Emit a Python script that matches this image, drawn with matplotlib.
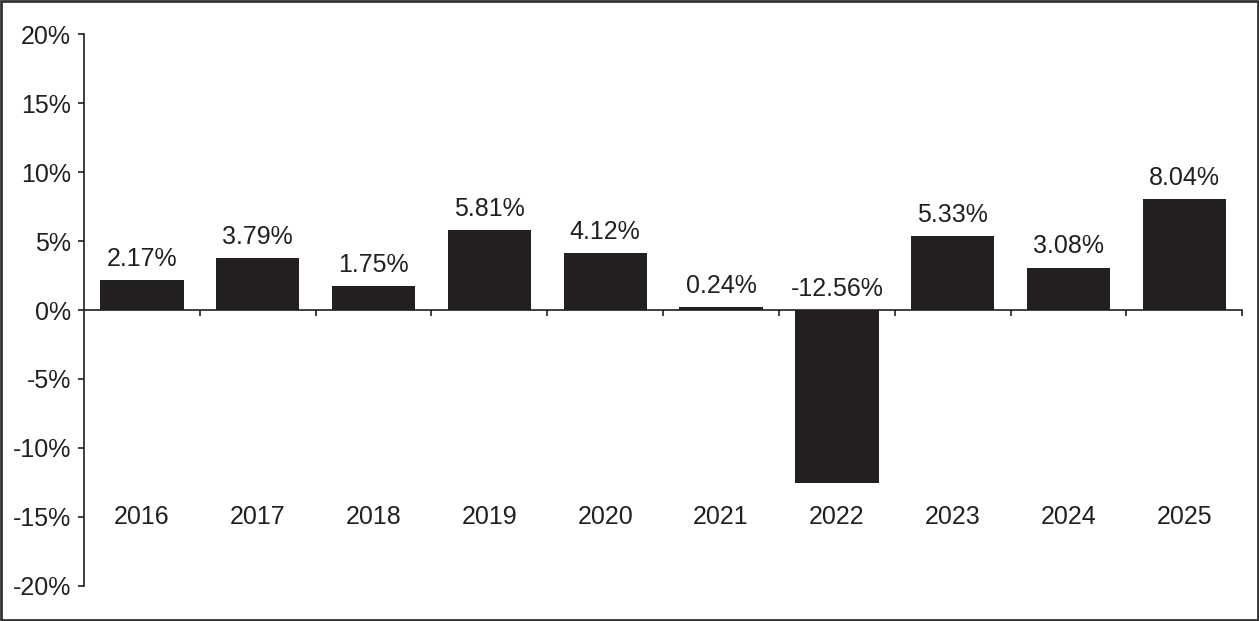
import matplotlib
matplotlib.use("Agg")
import matplotlib.pyplot as plt
from matplotlib.patches import Rectangle

# annual returns by year
years = ["2016", "2017", "2018", "2019", "2020", "2021", "2022", "2023", "2024", "2025"]
returns = [2.17, 3.79, 1.75, 5.81, 4.12, 0.24, -12.56, 5.33, 3.08, 8.04]
yticks = [-20, -15, -10, -5, 0, 5, 10, 15, 20]

ink = "#231f20"
plt.rcParams["font.family"] = ["Liberation Sans", "DejaVu Sans"]

fig = plt.figure(figsize=(12.59, 6.21), dpi=100)
ax = fig.add_axes([0.0667, 0.0564, 0.92, 0.8888])

x = list(range(len(years)))
ax.bar(x, returns, width=0.72, color=ink, zorder=3)

ax.set_xlim(-0.5, len(years) - 0.5)
ax.set_ylim(-20, 20)
ax.set_yticks(yticks)
ax.set_yticklabels([f"{t}%" for t in yticks])

# zero line with tick marks between categories
ax.spines["bottom"].set_position(("data", 0))
ax.set_xticks([i + 0.5 for i in x])
ax.set_xticklabels([])
ax.spines["top"].set_visible(False)
ax.spines["right"].set_visible(False)
for s in ["left", "bottom"]:
    ax.spines[s].set_color(ink)
    ax.spines[s].set_linewidth(1.2)
ax.tick_params(axis="both", direction="out", length=4.5, width=1.2, color=ink,
               labelsize=18, labelcolor=ink)
ax.tick_params(axis="y", pad=5)

# value labels above the bars (or above zero for negative)
for xi, v in zip(x, returns):
    ax.annotate(f"{v:.2f}%", (xi, max(v, 0)), xytext=(0, 6.5), textcoords="offset points",
                ha="center", va="bottom", fontsize=18, color=ink)

# year labels down at the -15% level
for xi, yr in zip(x, years):
    ax.text(xi, -15, yr, ha="center", va="center", fontsize=18, color=ink)

# frame round the whole picture
fig.patches.append(Rectangle((0.001, 0.002), 0.998, 0.996, transform=fig.transFigure,
                             fill=False, edgecolor="#333333", linewidth=2))

plt.savefig("out.png", dpi=100)
